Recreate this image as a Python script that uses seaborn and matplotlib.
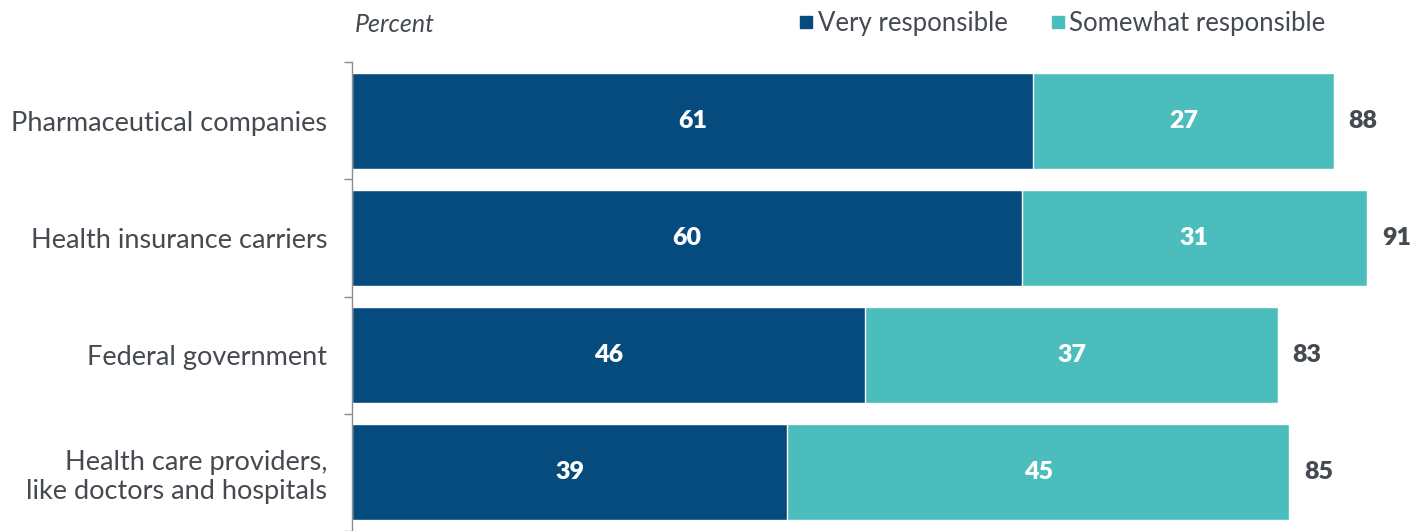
import pandas as pd
import matplotlib.pyplot as plt
import seaborn as sns
from matplotlib.lines import Line2D

# Values
categories = ["Pharmaceutical companies", "Health insurance carriers",
              "Federal government", "Health care providers,\nlike doctors and hospitals"]
very = [61, 60, 46, 39]
somewhat = [27, 31, 37, 45]
totals = [88, 91, 83, 85]

dark = "#054B7D"
teal = "#4CBDBD"
grey = "#454A50"

df = pd.DataFrame({"category": categories, "very": very,
                   "somewhat": somewhat, "total": totals})
df["stack"] = df["very"] + df["somewhat"]

sns.set_theme(style="white")
plt.rcParams["font.family"] = ["Lato", "DejaVu Sans"]

fig = plt.figure(figsize=(14.24, 5.31), dpi=100)
ax = fig.add_axes([0.2472, 0.0, 0.7444, 0.8832])

# stacked: very+somewhat in teal, "very" drawn on top in dark blue
sns.barplot(data=df, y="category", x="stack", color=teal, orient="h",
            width=0.82, saturation=1, ax=ax)
sns.barplot(data=df, y="category", x="very", color=dark, orient="h",
            width=0.82, saturation=1, ax=ax)

for i, row in df.iterrows():
    ax.text(row["very"] / 2, i, str(row["very"]), ha="center", va="center",
            color="white", fontsize=18, fontweight="heavy")
    ax.text(row["very"] + row["somewhat"] / 2, i, str(row["somewhat"]),
            ha="center", va="center", color="white", fontsize=18, fontweight="heavy")
    ax.text(row["stack"] + 1.3, i, str(row["total"]), ha="left", va="center",
            color=grey, fontsize=18, fontweight="heavy")

ax.set_xlim(0, 95)
ax.set_ylim(3.44, -0.5)
ax.set_xlabel("")
ax.set_ylabel("")
ax.set_xticks([])
ax.set_yticks([-0.5, 0.5, 1.5, 2.5, 3.5])
ax.set_yticklabels([])
ax.set_yticks([0, 1, 2, 3], minor=True)
ax.set_yticklabels(categories, minor=True, fontsize=19.5, color=grey)
ax.tick_params(axis="y", which="major", length=6, width=1, color="#8C8C8C", left=True)
ax.tick_params(axis="y", which="minor", length=0, pad=18)
for lab in ax.get_yticklabels(minor=True):
    lab.set_horizontalalignment("right")
    lab.set_multialignment("right")
for s in ["top", "right", "bottom"]:
    ax.spines[s].set_visible(False)
ax.spines["left"].set_color("#8C8C8C")
ax.spines["left"].set_linewidth(1)

fig.text(0.2493, 0.953, "Percent", fontsize=18, style="italic", color=grey,
         ha="left", va="center")

handles = [Line2D([], [], marker="s", linestyle="", markersize=9, color=dark),
           Line2D([], [], marker="s", linestyle="", markersize=9, color=teal)]
fig.legend(handles, ["Very responsible", "Somewhat responsible"], loc="center right",
           bbox_to_anchor=(0.931, 0.955), ncol=2, frameon=False, fontsize=18.5,
           handlelength=0.7, handletextpad=0.1, columnspacing=1.6, labelcolor=grey,
           borderaxespad=0, borderpad=0)

plt.savefig("out.png", dpi=100)
